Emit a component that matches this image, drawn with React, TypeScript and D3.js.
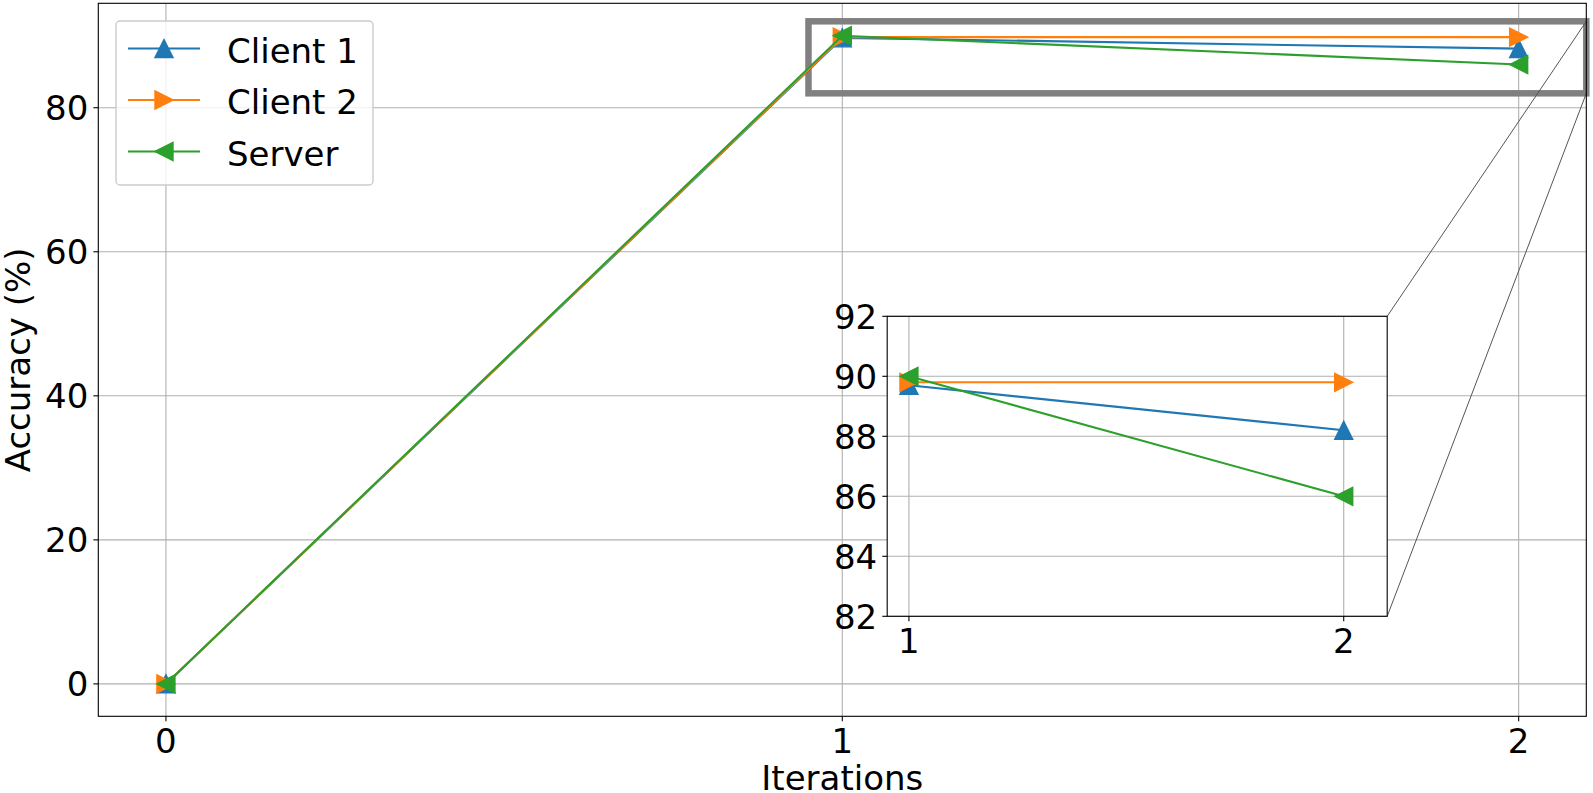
import React from "react";
import * as d3 from "d3";

// values
const iterations = [0, 1, 2];
const client1 = [0, 89.7, 88.2];
const client2 = [0, 89.8, 89.8];
const server = [0, 90.0, 86.0];

// the inset only shows iterations 1 and 2
const insetFrom = 1;

const seriesNames = ["Client 1", "Client 2", "Server"];
const seriesColors = ["#1f77b4", "#ff7f0e", "#2ca02c"];
const seriesMarkers = ["up", "right", "left"];

const mainXTicks = [0, 1, 2];
const mainYTicks = [0, 20, 40, 60, 80];
const insetXTicks = [1, 2];
const insetYTicks = [82, 84, 86, 88, 90, 92];

const W = 1593;
const H = 793;
const FONT = "DejaVu Sans, sans-serif";
const FS = 34;
const TICK = 4.9;
const GRID = "#b0b0b0";

const markerPath = (kind: string, h: number) => {
  if (kind === "up") return `M0,${-h}L${-h},${h}L${h},${h}Z`;
  if (kind === "right") return `M${h},0L${-h},${-h}L${-h},${h}Z`;
  return `M${-h},0L${h},${-h}L${h},${h}Z`;
};

const Series = ({ xs, values, color, marker, x, y }) => {
  const line = d3
    .line<number>()
    .x((_, i) => x(xs[i]))
    .y((d) => y(d));
  return (
    <g>
      <path d={line(values) || ""} fill="none" stroke={color} strokeWidth={2.1} />
      {values.map((v, i) => (
        <path
          key={i}
          d={markerPath(marker, 9)}
          transform={`translate(${x(xs[i])},${y(v)})`}
          fill={color}
          stroke={color}
          strokeWidth={1.4}
        />
      ))}
    </g>
  );
};

const App = () => {
  const x = d3.scaleLinear().domain([-0.1, 2.1]).range([98.3, 1586.3]);
  const y = d3.scaleLinear().domain([-4.5, 94.5]).range([716.3, 3.3]);

  const ix = d3.scaleLinear().domain([0.95, 2.1]).range([887.2, 1387.2]);
  const iy = d3.scaleLinear().domain([82, 92]).range([616.3, 316.3]);

  const all = [client1, client2, server];

  const [x0, x1] = x.range();
  const [y0, y1] = y.range();
  const [ix0, ix1] = ix.range();
  const [iy0, iy1] = iy.range();

  // zoom box on main axes
  const bx0 = x(ix.domain()[0]);
  const bx1 = x(ix.domain()[1]);
  const by0 = y(iy.domain()[1]);
  const by1 = y(iy.domain()[0]);

  const legendRows = [48.5, 100, 151.5];

  return (
    <svg
      width={W}
      height={H}
      style={{ position: "absolute", left: 0, top: 0, background: "#fff" }}
      fontFamily={FONT}
    >
      <defs>
        <clipPath id="insetClip">
          <rect x={ix0} y={iy1} width={ix1 - ix0} height={iy0 - iy1} />
        </clipPath>
      </defs>
      <rect width={W} height={H} fill="#fff" />

      {/* main grid */}
      {mainXTicks.map((t) => (
        <line key={`gx${t}`} x1={x(t)} x2={x(t)} y1={y0} y2={y1} stroke={GRID} strokeWidth={1.1} />
      ))}
      {mainYTicks.map((t) => (
        <line key={`gy${t}`} x1={x0} x2={x1} y1={y(t)} y2={y(t)} stroke={GRID} strokeWidth={1.1} />
      ))}

      {/* zoom indicator */}
      <rect x={bx0} y={by0} width={bx1 - bx0} height={by1 - by0} fill="none" stroke="#808080" strokeWidth={6.5} />
      <line x1={bx1} y1={by0} x2={ix1} y2={iy1} stroke="#555" strokeWidth={1} />
      <line x1={bx1} y1={by1} x2={ix1} y2={iy0} stroke="#555" strokeWidth={1} />

      {all.map((vals, i) => (
        <Series key={i} xs={iterations} values={vals} color={seriesColors[i]} marker={seriesMarkers[i]} x={x} y={y} />
      ))}

      {/* main spines */}
      <rect x={x0} y={y1} width={x1 - x0} height={y0 - y1} fill="none" stroke="#000" strokeWidth={1.1} />

      {/* main ticks */}
      {mainXTicks.map((t) => (
        <g key={`tx${t}`}>
          <line x1={x(t)} x2={x(t)} y1={y0} y2={y0 + TICK} stroke="#000" strokeWidth={1.1} />
          <text x={x(t)} y={y0 + 37} textAnchor="middle" fontSize={FS}>{t}</text>
        </g>
      ))}
      {mainYTicks.map((t) => (
        <g key={`ty${t}`}>
          <line x1={x0 - TICK} x2={x0} y1={y(t)} y2={y(t)} stroke="#000" strokeWidth={1.1} />
          <text x={x0 - 10} y={y(t)} dy="0.36em" textAnchor="end" fontSize={FS}>{t}</text>
        </g>
      ))}

      <text x={(x0 + x1) / 2} y={789.8} textAnchor="middle" fontSize={FS}>Iterations</text>
      <text
        transform={`translate(29.5,${(y0 + y1) / 2}) rotate(-90)`}
        textAnchor="middle"
        fontSize={FS}
      >
        Accuracy (%)
      </text>

      {/* legend */}
      <rect x={116} y={21} width={257} height={164} rx={4} fill="#fff" fillOpacity={0.8} stroke="#cccccc" strokeWidth={1.4} />
      {seriesNames.map((name, i) => (
        <g key={name}>
          <line x1={128} x2={200} y1={legendRows[i]} y2={legendRows[i]} stroke={seriesColors[i]} strokeWidth={2.1} />
          <path
            d={markerPath(seriesMarkers[i], 9)}
            transform={`translate(164,${legendRows[i]})`}
            fill={seriesColors[i]}
            stroke={seriesColors[i]}
            strokeWidth={1.4}
          />
          <text x={227} y={legendRows[i] + 14} fontSize={FS}>{name}</text>
        </g>
      ))}

      {/* inset axes */}
      <rect x={ix0} y={iy1} width={ix1 - ix0} height={iy0 - iy1} fill="#fff" />
      {insetXTicks.map((t) => (
        <line key={`igx${t}`} x1={ix(t)} x2={ix(t)} y1={iy0} y2={iy1} stroke={GRID} strokeWidth={1.1} />
      ))}
      {insetYTicks.map((t) => (
        <line key={`igy${t}`} x1={ix0} x2={ix1} y1={iy(t)} y2={iy(t)} stroke={GRID} strokeWidth={1.1} />
      ))}
      <g clipPath="url(#insetClip)">
        {all.map((vals, i) => (
          <Series
            key={i}
            xs={iterations.slice(insetFrom)}
            values={vals.slice(insetFrom)}
            color={seriesColors[i]}
            marker={seriesMarkers[i]}
            x={ix}
            y={iy}
          />
        ))}
      </g>
      <rect x={ix0} y={iy1} width={ix1 - ix0} height={iy0 - iy1} fill="none" stroke="#000" strokeWidth={1.1} />
      {insetXTicks.map((t) => (
        <g key={`itx${t}`}>
          <line x1={ix(t)} x2={ix(t)} y1={iy0} y2={iy0 + TICK} stroke="#000" strokeWidth={1.1} />
          <text x={ix(t)} y={iy0 + 37} textAnchor="middle" fontSize={FS}>{t}</text>
        </g>
      ))}
      {insetYTicks.map((t) => (
        <g key={`ity${t}`}>
          <line x1={ix0 - TICK} x2={ix0} y1={iy(t)} y2={iy(t)} stroke="#000" strokeWidth={1.1} />
          <text x={ix0 - 10} y={iy(t)} dy="0.36em" textAnchor="end" fontSize={FS}>{t}</text>
        </g>
      ))}
    </svg>
  );
};

export default App;
